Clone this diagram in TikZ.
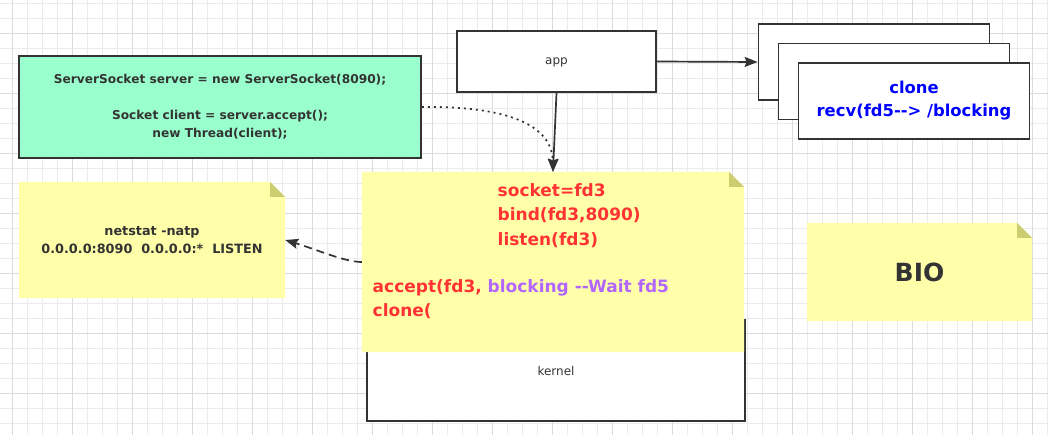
\documentclass[tikz,border=0pt]{standalone}
\usepackage{fontspec}
\setmainfont{DejaVu Sans}
\usetikzlibrary{arrows.meta}

\definecolor{ink}{HTML}{333333}
\definecolor{codegreen}{HTML}{99FFCC}
\definecolor{noteyellow}{HTML}{FFFFAA}
\definecolor{notefold}{HTML}{CCCC70}
\definecolor{callred}{HTML}{FF3333}
\definecolor{callpurple}{HTML}{B266FF}
\definecolor{threadblue}{HTML}{0000FF}

\begin{document}
\begin{tikzpicture}[x=1pt, y=-1pt, >={Stealth[length=13pt, width=10pt, inset=2pt]},
    minor line/.style={draw=black!8, line width=0.8pt},
    major line/.style={draw=black!14, line width=0.8pt},
    every box/.style={draw=ink, line width=1.8pt, inner sep=0pt, fill=white},
    note/.style={inner sep=0pt, path picture={
        \fill[noteyellow] (path picture bounding box.north west)
          -- ([xshift=-15pt]path picture bounding box.north east)
          -- ([yshift=-15pt]path picture bounding box.north east)
          -- (path picture bounding box.south east)
          -- (path picture bounding box.south west) -- cycle;
        \fill[notefold] ([xshift=-15pt]path picture bounding box.north east)
          -- ([xshift=-15pt,yshift=-15pt]path picture bounding box.north east)
          -- ([yshift=-15pt]path picture bounding box.north east) -- cycle;}},
    link/.style={draw=ink, line width=1.7pt},
    call/.style={anchor=base west, inner sep=0pt, font=\bfseries\fontsize{17}{20}\selectfont}]
        \fill[white] (0,0) rectangle (1048,435);
        \useasboundingbox (0,0) rectangle (1048,435);
        % background grid
        \foreach \gx in {12.5,27.5,...,1047.5}
          \draw [minor line] (\gx,0) -- (\gx,435);
        \foreach \gy in {3,18,...,435}
          \draw [minor line] (0,\gy) -- (1048,\gy);
        \foreach \gx in {12.5,72.5,...,1047.5}
          \draw [major line] (\gx,0) -- (\gx,435);
        \foreach \gy in {33,93,...,435}
          \draw [major line] (0,\gy) -- (1048,\gy);
        % java code
        \node [every box, fill=codegreen, minimum width=402pt, minimum height=102pt,
          align=center, text=ink, font=\bfseries\fontsize{12.2}{18}\selectfont] (code) at (220,107)
          {ServerSocket server = new ServerSocket(8090);\\ \\Socket client = server.accept();\\new Thread(client);};
        \node [every box, minimum width=199pt, minimum height=61pt, text=ink, text depth=0pt,
          font=\fontsize{12}{14}\selectfont] (app) at (556.5,61.5) {app};
        % threads
        \foreach \m [count=\i from 0] in {1,2,3}
          \node [every box, minimum width=231pt, minimum height=76pt] (thread-\m) at (874+20*\i,62+19.5*\i) {};
        \node [align=center, text=threadblue, font=\bfseries\fontsize{16.4}{23}\selectfont] (recv) at (thread-3)
          {clone\\recv(fd5-{}-> /blocking};
        \node [every box, minimum width=378pt, minimum height=101pt, text=ink, text depth=0pt,
          font=\fontsize{12}{14}\selectfont] (kernel) at (556,370.5) {kernel};
        % notes
        \node [note, minimum width=382pt, minimum height=180pt] (syscalls) at (553,262) {};
        \node [note, minimum width=266pt, minimum height=116pt, align=center, text=ink,
          font=\bfseries\fontsize{12.8}{18}\selectfont] (netstat) at (152,240)
          {netstat -natp\\0.0.0.0:8090~~0.0.0.0:*~~LISTEN};
        \node [note, minimum width=225pt, minimum height=98pt, text=ink,
          font=\bfseries\fontsize{25}{30}\selectfont] (bio) at (919.5,272) {BIO};
        \foreach \l [count=\i] in {socket=fd3, {bind(fd3,8090)}, listen(fd3)}
          \node [call, text=callred] (sys-\i) at (497.5,172+24.5*\i) {\l};
        \node [call, text=callred] (accept) at (372.5,293) {accept(fd3, \textcolor{callpurple}{blocking -{}-Wait fd5}};
        \node [call, text=callred] (clone) at (372.5,316.5) {clone(};
        % connectors
        \draw [link, ->] (app.east) -- (thread-1.west);
        \draw [link, ->] (app.south) -- (syscalls.north);
        \draw [link, ->, dash pattern=on 2pt off 4pt]
          (code.east) .. controls (495,106) and (552,120) .. (syscalls.north);
        \draw [link, ->, dash pattern=on 8pt off 5pt]
          (syscalls.west) .. controls (345,262) and (318,250) .. (netstat.east);
    \end{tikzpicture}
\end{document}
